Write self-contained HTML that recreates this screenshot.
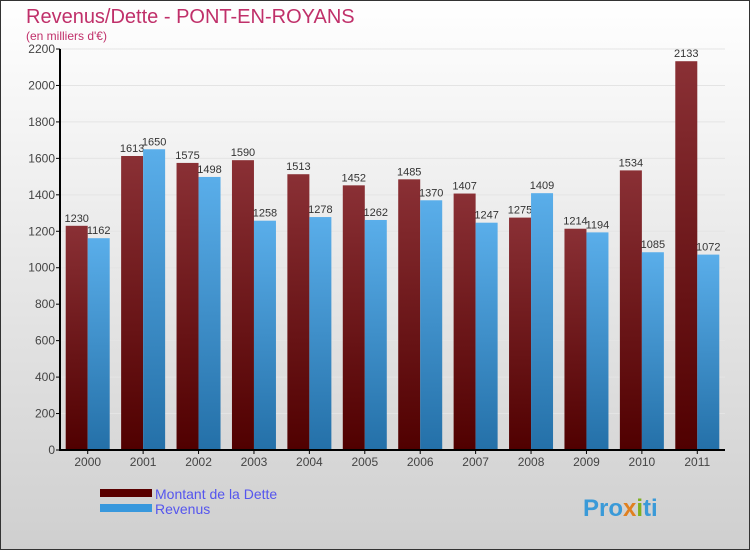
<!DOCTYPE html>
<html><head><meta charset="utf-8"><style>
body{margin:0}
#c{width:750px;height:550px;position:relative;overflow:hidden;font-family:"Liberation Sans",sans-serif}
</style></head><body>
<div id="c">
<svg id="s" width="750" height="550" xmlns="http://www.w3.org/2000/svg">
<defs>
<linearGradient id="bg" x1="0" y1="0" x2="0" y2="1"><stop offset="0" stop-color="#ffffff"/><stop offset="1" stop-color="#cfcfcf"/></linearGradient>
<linearGradient id="gd" x1="0" y1="0" x2="0" y2="1"><stop offset="0" stop-color="#8a3035"/><stop offset="1" stop-color="#500000"/></linearGradient>
<linearGradient id="gr" x1="0" y1="0" x2="0" y2="1"><stop offset="0" stop-color="#5aaeea"/><stop offset="1" stop-color="#2470a8"/></linearGradient>
</defs>
<rect x="0.5" y="0.5" width="749" height="549" fill="url(#bg)" stroke="#333"/>
<text x="26" y="23" font-size="20" fill="#c0306a">Revenus/Dette - PONT-EN-ROYANS</text>
<text x="26" y="40" font-size="12" fill="#c0306a">(en milliers d'€)</text>
<g id="grid"></g><g id="bars"></g><g id="axes"></g>
<rect x="100" y="489" width="52" height="8" fill="#5a0000"/>
<rect x="100" y="504" width="52" height="8" fill="#3898dd"/>
<text x="155" y="499" font-size="14" fill="#5555ee">Montant de la Dette</text>
<text x="155" y="514" font-size="14" fill="#5555ee">Revenus</text>
<text x="583" y="516" font-size="24" font-weight="bold" fill="#3a9ad8">Pro<tspan fill="#e08020">x</tspan><tspan fill="#80b020">i</tspan>ti</text>
</svg></div>
<script>
const years=["2000","2001","2002","2003","2004","2005","2006","2007","2008","2009","2010","2011"];
const dette=[1230,1613,1575,1590,1513,1452,1485,1407,1275,1214,1534,2133];
const revenus=[1162,1650,1498,1258,1278,1262,1370,1247,1409,1194,1085,1072];
const ticks=[0,200,400,600,800,1000,1200,1400,1600,1800,2000,2200];
const NS="http://www.w3.org/2000/svg";
const x0=60,x1=725,y0=450,yT=49,vmax=2200;
const gw=(x1-x0)/years.length;
const y=v=>y0-(v/vmax)*(y0-yT);
function mk(t,a,p){const e=document.createElementNS(NS,t);for(const k in a)e.setAttribute(k,a[k]);p.appendChild(e);return e;}
const G=document.getElementById('grid'),B=document.getElementById('bars'),A=document.getElementById('axes');
ticks.forEach(t=>{
 const l=mk('line',{x1:x0,x2:x1,y1:y(t),y2:y(t),stroke:'#e4e4e4','stroke-width':1},G);
 
 
 const k=mk('line',{x1:x0-4,x2:x0,y1:y(t),y2:y(t),stroke:'#000'},A);
 
 
 const tx=mk('text',{x:x0-5,y:y(t)+4,'font-size':12,'text-anchor':'end',fill:'#444'},A);tx.textContent=t;
 
 
});
years.forEach((yr,i)=>{
 const cx=x0+gw*(i+0.5),bw=22;
 [[dette[i],cx-bw,'url(#gd)'],[revenus[i],cx,'url(#gr)']].forEach(([v,bx,f],j)=>{
  const r=mk('rect',{x:bx,y:y(v),width:bw,height:y0-y(v),fill:f},B);
  
  
  const t=mk('text',{x:bx+bw/2,y:y(v)-4,'font-size':11,'text-anchor':'middle',fill:'#333'},B);t.textContent=v;
  
  
 });
 const k=mk('line',{x1:cx,x2:cx,y1:y0,y2:y0+4,stroke:'#000'},A);
 
 
 const t=mk('text',{x:cx,y:y0+16,'font-size':12,'text-anchor':'middle',fill:'#444'},A);t.textContent=yr;
 
 
});
const ax=mk('path',{d:`M${x0} ${yT}V${y0}H${x1}`,stroke:'#000','stroke-width':2,fill:'none'},A);


</script>
</body></html>
